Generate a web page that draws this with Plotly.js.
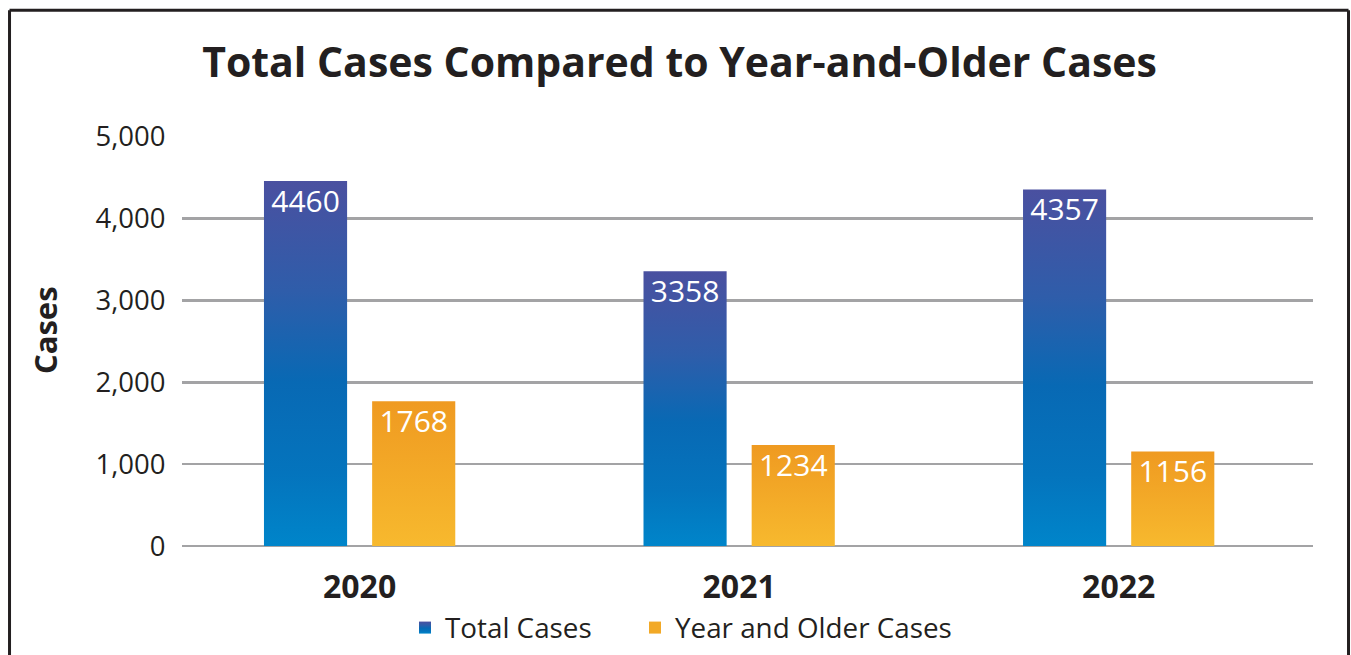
<!DOCTYPE html>
<html>
<head>
<meta charset="utf-8">
<script src="https://cdn.plot.ly/plotly-3.0.1.min.js"></script>
<style>
html,body{margin:0;padding:0;background:#fff;}
#chart{width:1351px;height:655px;}
</style>
</head>
<body>
<div id="chart"></div>
<script>
const years = ['2020', '2021', '2022'];
const totalCases = [4460, 3358, 4357];
const olderCases = [1768, 1234, 1156];
const seriesNames = ['Total Cases', 'Year and Older Cases'];
const yTicks = [0, 1000, 2000, 3000, 4000, 5000];

const FONT = '"Open Sans", "Noto Sans", sans-serif';

const traces = [
  {
    type: 'bar', name: seriesNames[0], x: years, y: totalCases, legend: 'legend',
    text: totalCases.map(String), textposition: 'inside', insidetextanchor: 'end',
    constraintext: 'none', textangle: 0,
    textfont: {family: FONT, size: 30, color: '#ffffff'},
    marker: {color: '#1A64B0', line: {width: 0}},
    hoverinfo: 'skip'
  },
  {
    type: 'bar', name: seriesNames[1], x: years, y: olderCases, legend: 'legend2',
    text: olderCases.map(String), textposition: 'inside', insidetextanchor: 'end',
    constraintext: 'none', textangle: 0,
    textfont: {family: FONT, size: 30, color: '#ffffff'},
    marker: {color: '#F2A927', line: {width: 0}},
    hoverinfo: 'skip'
  }
];

const legendBase = {
  orientation: 'h', xref: 'container', yref: 'container',
  xanchor: 'left', y: 0.0412, yanchor: 'middle',
  font: {family: FONT, size: 27.8, color: '#231F20'},
  itemwidth: 30, bgcolor: 'rgba(0,0,0,0)'
};

const layout = {
  width: 1351, height: 655,
  margin: {l: 182, r: 38, t: 136, b: 109, pad: 0},
  paper_bgcolor: '#ffffff', plot_bgcolor: '#ffffff',
  font: {family: FONT, color: '#231F20'},
  title: {
    text: '<b>Total Cases Compared to Year-and-Older Cases</b>',
    font: {family: FONT, size: 41, color: '#231F20'},
    x: 0.503, xref: 'container', xanchor: 'center',
    y: 0.905, yref: 'container', yanchor: 'middle'
  },
  barmode: 'group', bargap: 0.43, bargroupgap: 0.2315,
  xaxis: {
    type: 'category', range: [-0.468, 2.512], automargin: false,
    showgrid: false, zeroline: false, showline: false,
    ticks: 'outside', ticklen: 13, tickcolor: 'rgba(0,0,0,0)',
    tickfont: {family: FONT, size: 32, color: '#231F20', weight: 'bold'},
    fixedrange: true
  },
  yaxis: {
    range: [0, 5010], tickvals: yTicks, tickformat: ',', automargin: false,
    showgrid: true, gridcolor: '#A3A3A5', gridwidth: 2.5,
    zeroline: true, zerolinecolor: '#A3A3A5', zerolinewidth: 2.5,
    showline: false,
    ticks: 'outside', ticklen: 10, tickcolor: 'rgba(0,0,0,0)',
    tickfont: {family: FONT, size: 27.5, color: '#231F20'},
    fixedrange: true
  },
  annotations: [
    {text: '<b>Cases</b>', textangle: -90, showarrow: false,
     xref: 'paper', yref: 'paper', x: -0.1211, y: 0.5268, xanchor: 'center', yanchor: 'middle',
     font: {family: FONT, size: 31, color: '#231F20'}}
  ],
  showlegend: true,
  legend: Object.assign({}, legendBase, {x: 405 / 1351}),
  legend2: Object.assign({}, legendBase, {x: 635 / 1351}),
  shapes: [
    {type: 'line', xref: 'paper', yref: 'paper', x0: -0.1525, x1: 1.0314, y0: 1.3068, y1: 1.3068,
     line: {color: '#231F20', width: 3}},
    {type: 'line', xref: 'paper', yref: 'paper', x0: -0.1525, x1: -0.1525, y0: 1.3068, y1: -0.35,
     line: {color: '#231F20', width: 3}},
    {type: 'line', xref: 'paper', yref: 'paper', x0: 1.0314, x1: 1.0314, y0: 1.3068, y1: -0.35,
     line: {color: '#231F20', width: 3}}
  ]
};

Plotly.newPlot('chart', traces, layout, {displayModeBar: false, staticPlot: true}).then(function (gd) {
  const svgNS = 'http://www.w3.org/2000/svg';
  const svg = gd.querySelector('svg.main-svg');
  const defs = document.createElementNS(svgNS, 'defs');
  function grad(id, stops) {
    const g = document.createElementNS(svgNS, 'linearGradient');
    g.setAttribute('id', id);
    g.setAttribute('x1', '0'); g.setAttribute('y1', '0');
    g.setAttribute('x2', '0'); g.setAttribute('y2', '1');
    stops.forEach(function (s) {
      const st = document.createElementNS(svgNS, 'stop');
      st.setAttribute('offset', s[0]);
      st.setAttribute('stop-color', s[1]);
      g.appendChild(st);
    });
    defs.appendChild(g);
  }
  grad('gBlue', [[0, '#4A50A0'], [0.3, '#2F5DAA'], [0.55, '#0869B4'], [0.8, '#0474BD'], [1, '#0085CA']]);
  grad('gOrange', [[0, '#EF9A21'], [1, '#F7B92E']]);
  svg.insertBefore(defs, svg.firstChild);
  const ids = ['gBlue', 'gOrange'];
  gd.querySelectorAll('.barlayer .trace.bars').forEach(function (tr, i) {
    tr.querySelectorAll('.point path').forEach(function (p) { p.style.fill = 'url(#' + ids[i] + ')'; });
    tr.querySelectorAll('.point text').forEach(function (t) {
      const tf = t.getAttribute('transform') || '';
      t.setAttribute('transform', 'translate(0,-4) ' + tf);
    });
  });
  gd.querySelectorAll('.legend .traces').forEach(function (tr) {
    const t = tr.querySelector('.legendtext');
    const idx = t ? seriesNames.indexOf(t.textContent) : -1;
    if (idx < 0) return;
    tr.querySelectorAll('.legendpoints path').forEach(function (p) { p.style.fill = 'url(#' + ids[idx] + ')'; });
  });
});
</script>
</body>
</html>
